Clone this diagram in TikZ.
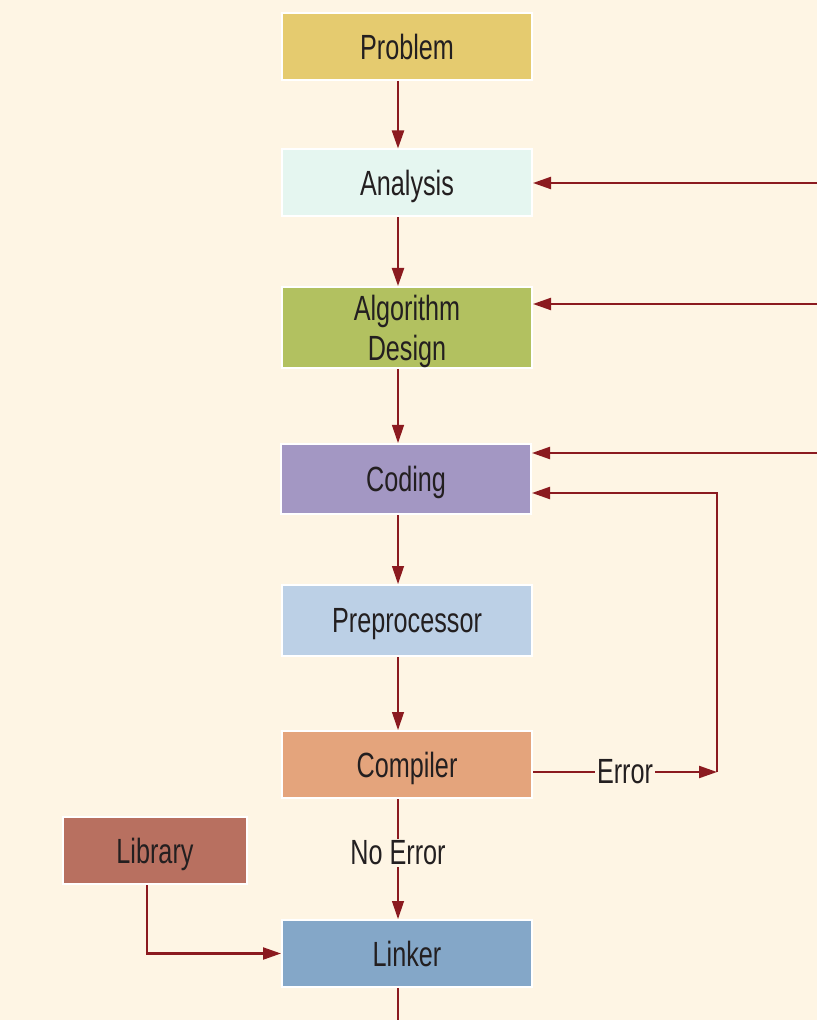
\documentclass[tikz,border=0pt]{standalone}
\usepackage{fontspec}
\setmainfont{Liberation Sans}[FakeStretch=0.72]
\usetikzlibrary{arrows.meta}
\definecolor{bgcol}{HTML}{FEF5E4}
\definecolor{arrcol}{HTML}{8B1A1F}
\definecolor{txtcol}{HTML}{231F20}
\definecolor{probcol}{HTML}{E5CB6F}
\definecolor{analcol}{HTML}{E5F6F0}
\definecolor{algcol}{HTML}{B2C160}
\definecolor{codecol}{HTML}{A397C3}
\definecolor{prepcol}{HTML}{BCD0E6}
\definecolor{compcol}{HTML}{E4A47C}
\definecolor{libcol}{HTML}{B87060}
\definecolor{linkcol}{HTML}{84A7C8}
\tikzset{
  stagebox/.style={draw=white,line width=1pt,minimum width=125pt,minimum height=33.5pt,
    inner sep=0pt,text depth=0pt,align=center,text=txtcol,font=\fontsize{17.5}{20}\selectfont},
  arr/.style={draw=arrcol,line width=0.6pt,-{Triangle[length=9pt,width=6pt]}},
  thickarr/.style={arr,line width=1.1pt},
  lbl/.style={fill=bgcol,inner sep=1pt,text=txtcol,font=\fontsize{17.5}{20}\selectfont}
}
\begin{document}
\begin{tikzpicture}[x=0.5pt,y=-0.5pt]
\fill[bgcol] (0,0) rectangle (817,1020);		%background
\useasboundingbox (0,0) rectangle (817,1020);
\node[stagebox,fill=probcol] (prob) at (407,46.5) {Problem};
\node[stagebox,fill=analcol] (anal) at (407,183) {Analysis};
\node[stagebox,fill=algcol,minimum height=40.5pt] (alg) at (407,327.5) {Algorithm\\Design};
\node[stagebox,fill=codecol,minimum height=35pt] (code) at (406,479) {Coding};
\node[stagebox,fill=prepcol,minimum height=35.5pt] (prep) at (407,620.5) {Preprocessor};
\node[stagebox,fill=compcol] (comp) at (407,764.5) {Compiler};
\node[stagebox,fill=libcol,minimum width=92pt] (lib) at (155,850.5) {Library};
\node[stagebox,fill=linkcol] (link) at (407,953.5) {Linker};
\coordinate (lane) at (398,0);				%vertical flow line
\coordinate (rAnal) at (817,183);
\coordinate (rAlg) at (817,304);
\coordinate (rCode) at (817,453);
\coordinate (eTurn) at (717,772);
\coordinate (eBack) at (717,493);
\coordinate (lTurn) at (147,953.5);
\coordinate (bot) at (398,1020);
\draw[thickarr] (prob.south -| lane) -- (anal.north -| lane);
\draw[thickarr] (anal.south -| lane) -- (alg.north -| lane);
\draw[arr] (alg.south -| lane) -- (code.north -| lane);
\draw[arr] (code.south -| lane) -- (prep.north -| lane);
\draw[arr] (prep.south -| lane) -- (comp.north -| lane);
\draw[arr] (comp.south -| lane) -- node[lbl,pos=0.45] {No Error} (link.north -| lane);
\draw[draw=arrcol,line width=0.6pt] (link.south -| lane) -- (bot);
\draw[thickarr] (rAnal) -- (rAnal -| anal.east);
\draw[thickarr] (rAlg) -- (rAlg -| alg.east);
\draw[thickarr] (rCode) -- (rCode -| code.east);
\draw[thickarr] (comp.east |- eTurn) -- node[lbl] {Error} (eTurn);
\draw[thickarr] (eTurn) -- (eBack) -- (eBack -| code.east);
\draw[thickarr] (lib.south -| lTurn) -- (lTurn) -- (link.west);
\end{tikzpicture}
\end{document}
